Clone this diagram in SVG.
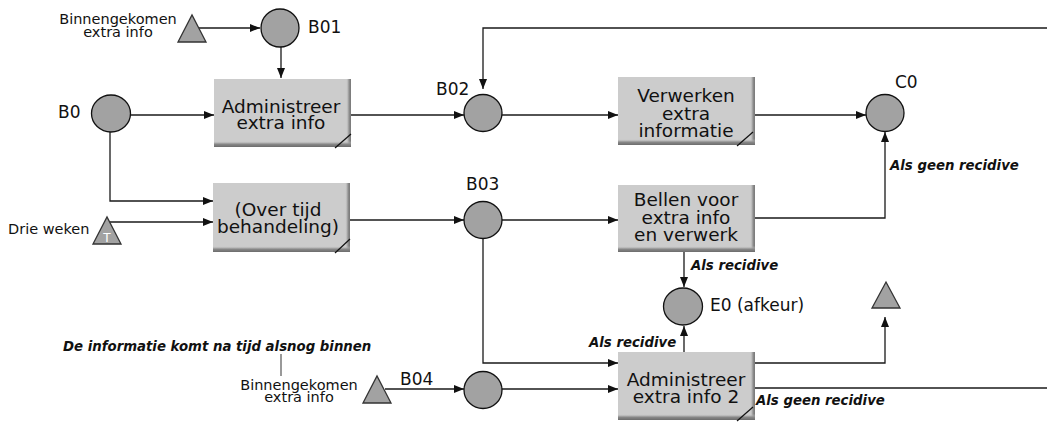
<svg xmlns="http://www.w3.org/2000/svg" width="1047" height="425" viewBox="0 0 1047 425">
  <style>
    .lbl { font-family: "DejaVu Sans", "Liberation Sans", sans-serif; font-size: 17px; fill: #111; }
    .small { font-family: "DejaVu Sans", "Liberation Sans", sans-serif; font-size: 14.5px; fill: #111; }
    .box-text { font-family: "DejaVu Sans", "Liberation Sans", sans-serif; font-size: 18.5px; fill: #111; text-anchor: middle; }
    .note { font-family: "DejaVu Sans", "Liberation Sans", sans-serif; font-size: 13.3px; font-weight: bold; font-style: italic; fill: #111; }
    .place { fill: #a2a2a2; stroke: #111; stroke-width: 1.3; }
    .trig { fill: #a2a2a2; stroke: #333; stroke-width: 1.3; }
    .box { fill: #cccccc; }
    .corner { stroke: #111; stroke-width: 1.2; fill: none; }
    .conn { fill: none; stroke: #1a1a1a; stroke-width: 1.3; }
  </style>
  <defs>
    <marker id="arrow" markerUnits="userSpaceOnUse" markerWidth="11" markerHeight="9" refX="10" refY="4" orient="auto">
      <path d="M0,0 L10,4 L0,8 z" fill="#111"/>
    </marker>
    <linearGradient id="shadeBottom" x1="0" y1="0" x2="0" y2="1">
      <stop offset="0" stop-color="#cccccc" stop-opacity="0"/>
      <stop offset="0.5" stop-color="#8a8a8a"/>
      <stop offset="1" stop-color="#6c6c6c"/>
    </linearGradient>
    <linearGradient id="shadeRight" x1="0" y1="0" x2="1" y2="0">
      <stop offset="0" stop-color="#cccccc" stop-opacity="0"/>
      <stop offset="0.6" stop-color="#8f8f8f"/>
      <stop offset="1" stop-color="#777777"/>
    </linearGradient>
  </defs>

  <rect width="1047" height="425" fill="#ffffff"/>

  <!-- connectors -->
  <g id="connectors" class="conn">
    <path d="M199,28 H260" marker-end="url(#arrow)"/>
    <path d="M281,47 V78" marker-end="url(#arrow)"/>
    <path d="M130,115 H214" marker-end="url(#arrow)"/>
    <path d="M110,132 V201 H213" marker-end="url(#arrow)"/>
    <path d="M110,222 H213" marker-end="url(#arrow)"/>
    <path d="M350,115 H464" marker-end="url(#arrow)"/>
    <path d="M1047,28 H483 V89" marker-end="url(#arrow)"/>
    <path d="M502,115 H618" marker-end="url(#arrow)"/>
    <path d="M755,115 H866" marker-end="url(#arrow)"/>
    <path d="M755,218 H885 V132" marker-end="url(#arrow)"/>
    <path d="M350,220 H464" marker-end="url(#arrow)"/>
    <path d="M502,220 H618" marker-end="url(#arrow)"/>
    <path d="M684,252 V287" marker-end="url(#arrow)"/>
    <path d="M483,239 V363 H618" marker-end="url(#arrow)"/>
    <path d="M684,352 V326" marker-end="url(#arrow)"/>
    <path d="M755,363 H885 V317" marker-end="url(#arrow)"/>
    <path d="M755,388 H1047"/>
    <path d="M385,389 H464" marker-end="url(#arrow)"/>
    <path d="M502,389 H618" marker-end="url(#arrow)"/>
    <path d="M281,354 V376" stroke="#555" stroke-width="1.2"/>
  </g>

  <!-- triggers -->
  <g id="trigger-info-top">
    <polygon class="trig" points="178,42 206,42 192,15"/>
    <text class="small" x="118" y="24" text-anchor="middle">Binnengekomen</text>
    <text class="small" x="118" y="36.5" text-anchor="middle">extra info</text>
  </g>
  <g id="trigger-drie-weken">
    <polygon class="trig" points="93,244 121,244 107,217"/>
    <text x="107" y="242" text-anchor="middle" font-family="DejaVu Sans, sans-serif" font-size="12" fill="#ffffff">T</text>
    <text class="small" x="8" y="234" font-size="15">Drie weken</text>
  </g>
  <g id="trigger-info-bottom">
    <polygon class="trig" points="363,403 391,403 377,376"/>
    <text class="small" x="299" y="389.5" text-anchor="middle">Binnengekomen</text>
    <text class="small" x="299" y="402" text-anchor="middle">extra info</text>
  </g>
  <g id="trigger-end">
    <polygon class="trig" points="872,308 900,308 886,282"/>
  </g>

  <!-- places -->
  <g id="B01">
    <ellipse class="place" cx="280" cy="28" rx="19" ry="19"/>
    <text class="lbl" x="308" y="33">B01</text>
  </g>
  <g id="B0">
    <ellipse class="place" cx="111" cy="113.5" rx="19.5" ry="18.5"/>
    <text class="lbl" x="58" y="118">B0</text>
  </g>
  <g id="B02">
    <ellipse class="place" cx="483" cy="113" rx="19" ry="18.5"/>
    <text class="lbl" x="436" y="95">B02</text>
  </g>
  <g id="C0">
    <ellipse class="place" cx="885" cy="113" rx="19" ry="18.5"/>
    <text class="lbl" x="895" y="88">C0</text>
  </g>
  <g id="B03">
    <ellipse class="place" cx="483" cy="220" rx="19" ry="18.5"/>
    <text class="lbl" x="466" y="190">B03</text>
  </g>
  <g id="E0">
    <ellipse class="place" cx="683" cy="306.5" rx="19.5" ry="18.5"/>
    <text class="lbl" x="710" y="311">E0 (afkeur)</text>
  </g>
  <g id="B04">
    <ellipse class="place" cx="483" cy="390" rx="19" ry="18.5"/>
    <text class="lbl" x="400" y="385">B04</text>
  </g>

  <!-- tasks -->
  <g id="task-administreer">
    <rect class="box" x="214" y="79" width="137" height="68"/>
    <rect x="346" y="79" width="5" height="68" fill="url(#shadeRight)"/>
    <rect x="214" y="141" width="137" height="6" fill="url(#shadeBottom)"/>
    <path class="corner" d="M335,148 L351,134"/>
    <text class="box-text" x="281" y="112.5">Administreer</text>
    <text class="box-text" x="281" y="128.5">extra info</text>
  </g>
  <g id="task-over-tijd">
    <rect class="box" x="213" y="183" width="137" height="69"/>
    <rect x="345" y="183" width="5" height="69" fill="url(#shadeRight)"/>
    <rect x="213" y="246" width="137" height="6" fill="url(#shadeBottom)"/>
    <path class="corner" d="M335,253 L350,239"/>
    <text class="box-text" x="278" y="216">(Over tijd</text>
    <text class="box-text" x="278" y="233">behandeling)</text>
  </g>
  <g id="task-verwerken">
    <rect class="box" x="618" y="77" width="137" height="68"/>
    <rect x="750" y="77" width="5" height="68" fill="url(#shadeRight)"/>
    <rect x="618" y="139" width="137" height="6" fill="url(#shadeBottom)"/>
    <path class="corner" d="M737,146 L753,132"/>
    <text class="box-text" x="686" y="102">Verwerken</text>
    <text class="box-text" x="686" y="119.5">extra</text>
    <text class="box-text" x="686" y="137">informatie</text>
  </g>
  <g id="task-bellen">
    <rect class="box" x="618" y="185" width="137" height="67"/>
    <rect x="750" y="185" width="5" height="67" fill="url(#shadeRight)"/>
    <rect x="618" y="246" width="137" height="6" fill="url(#shadeBottom)"/>
    <text class="box-text" x="686" y="206">Bellen voor</text>
    <text class="box-text" x="686" y="223.5">extra info</text>
    <text class="box-text" x="686" y="241">en verwerk</text>
  </g>
  <g id="task-administreer-2">
    <rect class="box" x="618" y="352" width="137" height="68"/>
    <rect x="750" y="352" width="5" height="68" fill="url(#shadeRight)"/>
    <rect x="618" y="414" width="137" height="6" fill="url(#shadeBottom)"/>
    <path class="corner" d="M737,421 L753,407"/>
    <text class="box-text" x="686" y="386">Administreer</text>
    <text class="box-text" x="686" y="403">extra info 2</text>
  </g>

  <!-- condition notes -->
  <g id="notes">
    <text class="note" x="890" y="170">Als geen recidive</text>
    <text class="note" x="691" y="269.5">Als recidive</text>
    <text class="note" x="589" y="347">Als recidive</text>
    <text class="note" x="756" y="405">Als geen recidive</text>
    <text class="note" x="63" y="350.5">De informatie komt na tijd alsnog binnen</text>
  </g>
</svg>
